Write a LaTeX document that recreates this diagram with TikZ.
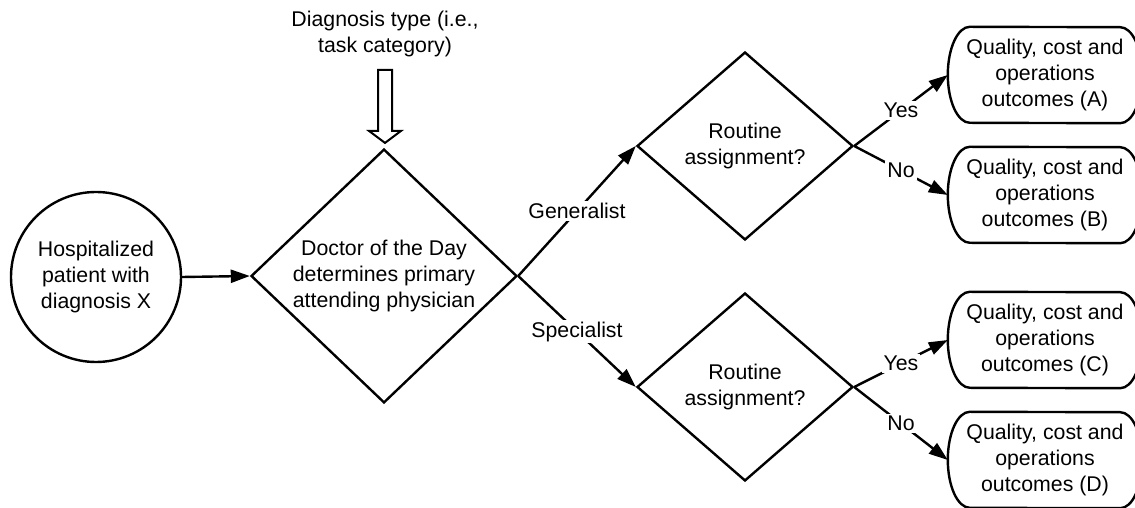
\documentclass[tikz,border=0pt]{standalone}
\usepackage{fontspec}
\setmainfont{Liberation Sans}
\usepackage{tikz}
\usetikzlibrary{arrows.meta,shapes.geometric,calc}

\tikzset{
  every node/.style={font=\fontsize{21.3}{25.8}\selectfont, align=center},
  startnode/.style={circle, draw, line width=2.4pt, minimum size=170pt, inner sep=0pt},
  decision/.style={diamond, draw, line width=2.4pt, inner sep=0pt},
  outcome/.style={rectangle, minimum width=194pt, minimum height=96pt, inner sep=0pt},
  flow/.style={line width=2.4pt, -{Triangle[length=19pt,width=13pt]}},
  branchlabel/.style={fill=white, inner sep=2pt}
}

\begin{document}
\begin{tikzpicture}[x=1pt,y=1pt]
\useasboundingbox (0,0) rectangle (1135,508);
% nodes
\node[startnode] (patient) at (96,231) {Hospitalized\\patient with\\diagnosis X};
\node[decision, minimum width=266pt, minimum height=252pt] (doctor) at (384,232)
  {Doctor of the Day\\determines primary\\attending physician};
\node (type) at (385,474) {Diagnosis type (i.e.,\\task category)};
\node[decision, minimum width=216pt, minimum height=188pt] (routineg) at (745,362) {Routine\\assignment?};
\node[decision, minimum width=216pt, minimum height=188pt] (routines) at (745,121) {Routine\\assignment?};
\node[outcome] (outa) at (1045,433) {Quality, cost and\\operations\\outcomes (A)};
\node[outcome] (outb) at (1045,313) {Quality, cost and\\operations\\outcomes (B)};
\node[outcome] (outc) at (1045,168) {Quality, cost and\\operations\\outcomes (C)};
\node[outcome] (outd) at (1045,48) {Quality, cost and\\operations\\outcomes (D)};
% outcome outlines
\foreach \o in {outa,outb,outc,outd}
  \draw[line width=2.4pt] ($(\o.north west)+(22,0)$)
    arc[start angle=90, end angle=270, x radius=22, y radius=48]
    -- ($(\o.south east)+(-22,0)$)
    arc[start angle=-90, end angle=90, x radius=22, y radius=48] -- cycle;
% hollow arrow
\draw[line width=2pt] ($(doctor.north)+(-6,78)$) -- ($(doctor.north)+(-6,17)$)
  -- ($(doctor.north)+(-15,17)$) -- ($(doctor.north)+(1,5)$)
  -- ($(doctor.north)+(17,17)$) -- ($(doctor.north)+(8,17)$)
  -- ($(doctor.north)+(8,78)$) -- cycle;
% connectors
\draw[flow] (patient.east) -- (doctor.west);
\draw[flow] (doctor.east) -- node[branchlabel]{Generalist} (routineg.west);
\draw[flow] (doctor.east) -- node[branchlabel]{Specialist} (routines.west);
\draw[flow] (routineg.east) -- node[branchlabel]{Yes} (outa.west);
\draw[flow] (routineg.east) -- node[branchlabel]{No} (outb.west);
\draw[flow] (routines.east) -- node[branchlabel]{Yes} (outc.west);
\draw[flow] (routines.east) -- node[branchlabel]{No} (outd.west);
\end{tikzpicture}
\end{document}
